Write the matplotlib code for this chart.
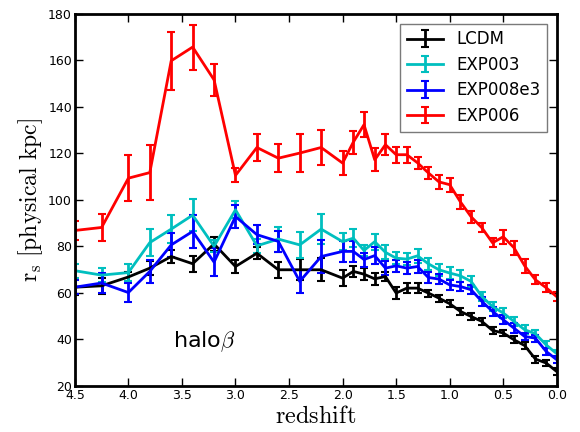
import numpy as np
import matplotlib
matplotlib.use('Agg')
import matplotlib.pyplot as plt

# redshift snapshots
z = [4.5, 4.25, 4.0, 3.8, 3.6, 3.4, 3.2, 3.0, 2.8, 2.6, 2.4, 2.2, 2.0, 1.9, 1.8, 1.7,
     1.6, 1.5, 1.4, 1.3, 1.2, 1.1, 1.0, 0.9, 0.8, 0.7, 0.6, 0.5, 0.4, 0.3, 0.2, 0.1, 0.0]

lcdm = [62.4, 63.0, 66.8, 70.6, 75.6, 72.5, 81.0, 71.3, 77.0, 69.9, 69.9, 69.9, 66.3, 69.2, 68.0, 66.0,
        67.0, 59.9, 62.0, 62.0, 59.9, 57.7, 55.3, 52.0, 49.8, 47.7, 43.8, 42.7, 39.8, 37.3, 31.5, 29.8, 26.1]
lcdm_err = [3.5, 3.5, 2.0, 3.0, 3.0, 3.5, 3.0, 3.0, 2.5, 3.5, 4.5, 5.0, 3.5, 2.5, 2.5, 2.5,
            2.0, 2.5, 2.0, 2.0, 1.5, 1.5, 1.5, 1.5, 1.5, 1.5, 1.5, 1.5, 1.5, 1.5, 1.5, 1.5, 1.5]

exp003 = [69.5, 67.6, 68.7, 81.6, 87.4, 93.4, 80.0, 95.7, 80.2, 83.1, 80.6, 87.4, 82.0, 83.5, 78.2, 82.0,
          77.4, 74.9, 74.5, 75.9, 72.5, 69.9, 68.5, 67.3, 64.9, 58.4, 54.1, 51.3, 47.7, 44.1, 42.4, 37.6, 33.8]
exp003_err = [3.0, 3.0, 3.5, 5.7, 6.0, 6.8, 2.5, 3.6, 3.0, 5.4, 5.6, 6.5, 3.6, 4.0, 2.5, 3.5,
              3.0, 2.5, 2.5, 3.0, 2.5, 2.5, 2.5, 2.5, 2.5, 2.0, 2.0, 2.0, 2.0, 2.0, 1.5, 1.5, 1.5]

exp008e3 = [62.4, 64.2, 60.1, 69.2, 80.6, 86.4, 73.2, 92.8, 85.0, 82.1, 64.9, 75.6, 77.8, 77.8, 74.3, 76.0,
            70.6, 71.6, 70.6, 71.3, 66.6, 65.9, 63.4, 62.7, 61.3, 56.3, 52.0, 48.4, 44.8, 41.2, 40.5, 34.8, 31.2]
exp008e3_err = [3.0, 4.5, 4.0, 5.0, 5.0, 7.0, 6.0, 5.0, 4.0, 4.5, 5.0, 7.0, 4.5, 4.5, 3.0, 3.5,
                3.0, 2.5, 2.5, 3.0, 2.5, 2.0, 2.0, 2.0, 2.0, 2.0, 2.0, 2.0, 2.0, 1.5, 1.5, 1.5, 1.5]

exp006 = [86.8, 88.1, 109.3, 111.7, 159.8, 165.7, 151.6, 110.5, 122.5, 117.9, 120.1, 122.5, 115.8, 124.8, 132.3, 117.2,
          123.7, 119.4, 119.4, 115.9, 111.6, 107.7, 106.5, 99.1, 92.7, 88.0, 81.5, 84.1, 79.4, 71.6, 65.6, 62.2, 58.3]
exp006_err = [4.0, 6.0, 10.0, 12.0, 12.5, 9.7, 7.0, 3.0, 5.7, 6.0, 8.0, 7.5, 5.0, 5.0, 5.5, 5.0,
              4.5, 3.5, 3.5, 2.5, 2.5, 3.0, 3.0, 3.0, 2.5, 2.0, 2.0, 3.0, 3.0, 3.0, 2.0, 2.0, 2.0]

series = [('LCDM', lcdm, lcdm_err, 'k'),
          ('EXP003', exp003, exp003_err, 'c'),
          ('EXP008e3', exp008e3, exp008e3_err, 'b'),
          ('EXP006', exp006, exp006_err, 'r')]

plt.rcParams['mathtext.fontset'] = 'cm'

fig = plt.figure(figsize=(5.8, 4.32), dpi=100)
ax = fig.add_axes([0.129, 0.107, 0.831, 0.861])

for nome, vals, errs, cor in series:
    ax.errorbar(z, vals, yerr=errs, color=cor, lw=2, elinewidth=2,
                capsize=3, capthick=1.5, label=nome)

ax.set_xlim(4.5, 0.0)
ax.set_ylim(20, 180)
xt = np.arange(4.5, -0.01, -0.5)
ax.set_xticks(xt)
ax.set_xticklabels(['%.1f' % v for v in xt])
ax.tick_params(direction='in', length=6, width=1, top=True, right=True, labelsize=9, pad=2)
for s in ax.spines.values():
    s.set_linewidth(2)

ax.set_xlabel(r'$\mathrm{redshift}$', fontsize=17.5, labelpad=2)
ax.set_ylabel(r'$\mathrm{r_s\ [physical\ kpc]}$', fontsize=17, labelpad=2)

ax.text(3.58, 36.8, r'halo$\beta$', fontsize=16)

leg = ax.legend(loc='upper right', numpoints=1, fontsize=12, fancybox=False,
                handlelength=2.2, handletextpad=0.75, labelspacing=0.45,
                borderaxespad=0.6)
leg.get_frame().set_edgecolor('0.35')
leg.get_frame().set_linewidth(1)

fig.savefig('out.png', dpi=100, facecolor='w')
